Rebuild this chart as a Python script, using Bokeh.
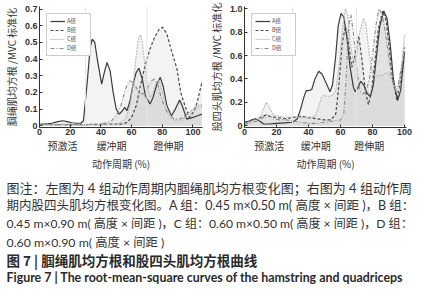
from bokeh.plotting import figure
from bokeh.models import Range1d, FixedTicker, LinearAxis, Span
from bokeh.layouts import row, column
from bokeh.embed import file_html
from bokeh.resources import INLINE
from bokeh.core.properties import value

# ---------------- data ----------------
groups = ["A组", "B组", "C组", "D组"]
x_ticks = [0, 20, 40, 60, 80, 100]
phase_names = ["预激活", "缓冲期", "蹬伸期"]
phase_pos_left = [15, 47, 84]
phase_pos_right = [15.5, 44.5, 78]
phase_lines = [30, 70]
x_title = "动作周期 (%)"
y_title_left = "腘绳肌均方根 /MVC 标准化"
y_title_right = "股四头肌均方根 /MVC 标准化"
y_ticks_left = [0, 0.1, 0.2, 0.3, 0.4, 0.5, 0.6, 0.7]
y_ticks_right = [0, 0.2, 0.4, 0.6, 0.8, 1.0]

# hamstring (left)
hx_A = [0, 4, 8, 12, 15, 18, 21, 24, 27, 28.6, 31, 33, 34.4, 36, 38, 40.5, 42.5, 44, 46, 48, 50, 52, 54, 55.5, 57, 59, 61, 63, 64.8, 67, 69, 72, 74, 76.5, 78.7, 80.5, 83, 86, 88.5, 91.3, 93, 95.9, 100, 103, 105.8]
hy_A = [0.01, 0.01, 0.015, 0.025, 0.03, 0.025, 0.018, 0.015, 0.015, 0.03, 0.25, 0.47, 0.52, 0.5, 0.38, 0.25, 0.33, 0.38, 0.33, 0.2, 0.1, 0.07, 0.09, 0.11, 0.09, 0.15, 0.25, 0.32, 0.345, 0.28, 0.18, 0.13, 0.17, 0.25, 0.29, 0.24, 0.12, 0.06, 0.1, 0.155, 0.12, 0.04, 0.05, 0.06, 0.07]
hx_B = [0, 5, 10, 15, 20, 25, 30, 35, 40, 45, 50, 54, 57, 60, 63, 66, 69, 72, 75, 78, 80.3, 83, 86, 89.6, 92, 94.8, 97.5, 101, 103, 105.8]
hy_B = [0.005, 0.01, 0.005, 0.008, 0.005, 0.008, 0.005, 0.01, 0.008, 0.01, 0.01, 0.01, 0.02, 0.05, 0.12, 0.25, 0.37, 0.46, 0.53, 0.58, 0.59, 0.55, 0.45, 0.34, 0.2, 0.12, 0.05, 0.09, 0.15, 0.26]
hx_C = [0, 5, 10, 15, 20, 25, 30, 35, 40, 45, 50, 53, 56, 59, 61, 63, 64.5, 65.8, 67, 68.5, 70, 72, 74, 76, 78, 80, 83, 86, 89, 92, 95, 98, 101, 105.8]
hy_C = [0.01, 0.008, 0.005, 0.008, 0.01, 0.008, 0.005, 0.008, 0.005, 0.01, 0.01, 0.02, 0.04, 0.12, 0.25, 0.42, 0.52, 0.545, 0.5, 0.38, 0.25, 0.17, 0.2, 0.26, 0.27, 0.2, 0.1, 0.05, 0.03, 0.03, 0.05, 0.08, 0.1, 0.12]
hx_D = [0, 5, 10, 15, 20, 25, 30, 35, 40, 44, 47, 50, 53, 56, 58.5, 61, 63, 65, 67, 69, 71, 73, 75, 77, 79, 82, 85, 88, 91, 94, 97, 100, 103, 105.8]
hy_D = [0.008, 0.005, 0.01, 0.005, 0.008, 0.005, 0.008, 0.005, 0.01, 0.02, 0.03, 0.06, 0.12, 0.22, 0.27, 0.26, 0.23, 0.2, 0.19, 0.2, 0.24, 0.27, 0.28, 0.25, 0.18, 0.1, 0.06, 0.04, 0.04, 0.05, 0.08, 0.1, 0.12, 0.13]

# quadriceps (right)
qx_A = [0, 3, 6.5, 9, 12, 15, 20, 25, 30, 33, 35, 37, 38.5, 40, 42, 44, 46.4, 48.5, 50.5, 53.4, 55, 57, 58.5, 60.3, 62, 64, 66, 68, 69.2, 71, 72.6, 74.5, 76.5, 78.6, 80.5, 82.5, 84.5, 87, 89, 91, 93, 95.6, 97.5, 99, 100]
qy_A = [0.02, 0.04, 0.06, 0.045, 0.015, 0.015, 0.02, 0.025, 0.03, 0.06, 0.14, 0.24, 0.3, 0.3, 0.31, 0.4, 0.466, 0.44, 0.38, 0.29, 0.35, 0.6, 0.85, 0.96, 0.93, 0.75, 0.5, 0.33, 0.29, 0.33, 0.38, 0.35, 0.28, 0.25, 0.35, 0.6, 0.85, 0.98, 0.92, 0.7, 0.4, 0.215, 0.3, 0.5, 0.62]
qx_B = [0, 5, 10, 13, 16, 20, 25, 30, 35, 40, 45, 50, 54, 57, 59, 61, 63, 65, 67, 69, 71.4, 73.5, 75.5, 77.4, 79.5, 81.5, 83.5, 86.3, 88.5, 90.5, 92.5, 95.2, 97.5, 100]
qy_B = [0.03, 0.05, 0.07, 0.09, 0.08, 0.07, 0.06, 0.07, 0.08, 0.07, 0.06, 0.05, 0.05, 0.1, 0.35, 0.7, 0.85, 0.7, 0.5, 0.6, 0.77, 0.55, 0.3, 0.18, 0.3, 0.55, 0.82, 0.98, 0.9, 0.65, 0.4, 0.22, 0.4, 0.67]
qx_C = [0, 5, 10, 12, 13.7, 15.5, 18, 22, 26, 30, 35, 40, 44, 46, 48, 49.4, 52, 55, 57, 59, 61, 63, 64.5, 66, 68, 70, 72, 74.4, 76, 78, 80, 82, 84, 86, 88, 90, 92, 94, 96, 98, 100]
qy_C = [0.02, 0.04, 0.08, 0.15, 0.2, 0.16, 0.09, 0.08, 0.07, 0.08, 0.07, 0.07, 0.08, 0.15, 0.24, 0.26, 0.25, 0.26, 0.3, 0.5, 0.8, 1.0, 0.95, 0.7, 0.55, 0.6, 0.8, 0.92, 0.85, 0.6, 0.45, 0.42, 0.43, 0.43, 0.45, 0.45, 0.4, 0.32, 0.3, 0.5, 0.78]
qx_D = [0, 5, 10, 14, 18, 22, 26, 30, 35, 40, 45, 50, 55, 60, 62, 63.5, 65, 66.5, 68, 70, 72, 74, 76, 78, 80, 82, 84, 86, 88, 90, 92, 94, 96, 98, 100]
qy_D = [0.01, 0.03, 0.05, 0.1, 0.06, 0.05, 0.05, 0.04, 0.03, 0.02, 0.02, 0.03, 0.04, 0.05, 0.1, 0.4, 0.85, 0.95, 0.8, 0.5, 0.3, 0.27, 0.3, 0.4, 0.6, 0.85, 1.0, 0.95, 0.8, 0.6, 0.4, 0.3, 0.35, 0.5, 0.6]

caption_lines = [
    "图注：左图为 4 组动作周期内腘绳肌均方根变化图；右图为 4 组动作周",
    "期内股四头肌均方根变化图。A 组：0.45 m×0.50 m( 高度 × 间距 )，B 组：",
    "0.45 m×0.90 m( 高度 × 间距 )，C 组：0.60 m×0.50 m( 高度 × 间距 )，D 组：",
    "0.60 m×0.90 m( 高度 × 间距 )",
]
caption_sizes = ["13px", "12.5px", "12.1px", "12.3px"]
title_cn = "图 7 | 腘绳肌均方根和股四头肌均方根曲线"
title_en = "Figure 7 | The root-mean-square curves of the hamstring and quadriceps"

# ---------------- styles ----------------
line_styles = [
    dict(line_color="#3a3a3a", line_width=1.2, line_dash="solid"),
    dict(line_color="#4a4a4a", line_width=1.2, line_dash="3 2"),
    dict(line_color="#bdbdbd", line_width=1.2, line_dash="2 1"),
    dict(line_color="#8c8c8c", line_width=1.1, line_dash="4 2 1 2"),
]
CJK = "Noto Sans CJK SC"
MIX = "Lato, Noto Sans CJK SC"
AXC = "#333333"


def make_plot(series, xr, yr, yticks, ytitle, phase_pos, width, mb_right, overrides):
    p = figure(width=width, height=173, x_range=Range1d(*xr), y_range=Range1d(*yr),
               output_backend="svg", toolbar_location=None,
               min_border_left=36, min_border_right=mb_right,
               min_border_top=6, min_border_bottom=38)
    p.outline_line_color = None
    p.grid.visible = False
    p.background_fill_color = "white"
    for loc in phase_lines:
        p.add_layout(Span(location=loc, dimension="height", line_color="#e4e4e4", line_width=1))
    for (xs, ys), name, st in zip(series, groups, line_styles):
        p.varea(x=xs, y1=[0] * len(xs), y2=ys, fill_color="#c8c8c8", fill_alpha=0.22)
    for (xs, ys), name, st in zip(series, groups, line_styles):
        p.line(xs, ys, legend_label=name, **st)

    xa = p.xaxis[0]
    xa.ticker = FixedTicker(ticks=x_ticks)
    ya = p.yaxis[0]
    ya.ticker = FixedTicker(ticks=yticks)
    ya.major_label_overrides = overrides
    for ax in (xa, ya):
        ax.axis_line_color = AXC
        ax.axis_line_width = 1
        ax.major_tick_line_color = AXC
        ax.major_tick_in = 3
        ax.major_tick_out = 0
        ax.minor_tick_line_color = None
        ax.major_label_text_font = "Liberation Sans"
        ax.major_label_text_font_style = "bold"
        ax.major_label_text_font_size = "9px"
        ax.major_label_text_color = AXC
        ax.major_label_standoff = 2
    xa.major_label_standoff = 1
    ya.axis_label = ytitle
    ya.axis_label_text_font = CJK
    ya.axis_label_text_font_style = "normal"
    ya.axis_label_text_font_size = "10px"
    ya.axis_label_text_color = AXC
    ya.axis_label_standoff = 3

    pa = LinearAxis(ticker=FixedTicker(ticks=phase_pos),
                    major_label_overrides={k: v for k, v in zip(phase_pos, phase_names)})
    pa.axis_line_color = None
    pa.major_tick_line_color = None
    pa.minor_tick_line_color = None
    pa.major_tick_in = 0
    pa.major_tick_out = 0
    pa.major_label_standoff = 0
    pa.major_label_text_font = CJK
    pa.major_label_text_font_size = "10px"
    pa.major_label_text_color = AXC
    pa.axis_label = x_title
    pa.axis_label_text_font = CJK
    pa.axis_label_text_font_style = "normal"
    pa.axis_label_text_font_size = "10px"
    pa.axis_label_text_color = AXC
    pa.axis_label_standoff = 0
    p.add_layout(pa, "below")

    lg = p.legend[0]
    lg.location = "top_left"
    lg.margin = 7
    lg.padding = 3
    lg.spacing = 1
    lg.border_line_color = "#9a9a9a"
    lg.border_line_width = 0.7
    lg.background_fill_alpha = 1
    lg.label_text_font = CJK
    lg.label_text_font_size = "5.5px"
    lg.label_text_color = "#555555"
    lg.label_height = 6
    lg.label_standoff = 2
    lg.glyph_height = 6
    lg.glyph_width = 15
    return p


p1 = make_plot([(hx_A, hy_A), (hx_B, hy_B), (hx_C, hy_C), (hx_D, hy_D)],
               (0, 106.2), (-0.0104, 0.715), y_ticks_left, y_title_left, phase_pos_left, 205, 3,
               {0: "0"})
p2 = make_plot([(qx_A, qy_A), (qx_B, qy_B), (qx_C, qy_C), (qx_D, qy_D)],
               (0, 101.2), (-0.015, 1.019), y_ticks_right, y_title_right, phase_pos_right, 216, 15,
               {0: "0", 1: "1.0"})

# caption
p3 = figure(width=421, height=111, x_range=Range1d(0, 421), y_range=Range1d(111, 0),
            output_backend="svg", toolbar_location=None, min_border=0)
p3.axis.visible = False
p3.grid.visible = False
p3.outline_line_color = None
cap_y = [14.2, 31.7, 50.1, 68.5]
p3.text(x=[6] * 4, y=cap_y, text=caption_lines, text_font=value(MIX), text_font_size=caption_sizes,
        text_baseline="middle", text_color="#333333")
p3.text(x=[6], y=[86], text=[title_cn], text_font=value(CJK), text_font_size="13.5px",
        text_font_style="bold", text_baseline="middle", text_color="#2a2a2a")
p3.text(x=[6], y=[103.5], text=[title_en], text_font=value("Lato"), text_font_size="12.4px",
        text_font_style="bold", text_baseline="middle", text_color="#2a2a2a")

layout = column(row(p1, p2), p3)
open("out.html", "w").write(file_html(layout, INLINE))
